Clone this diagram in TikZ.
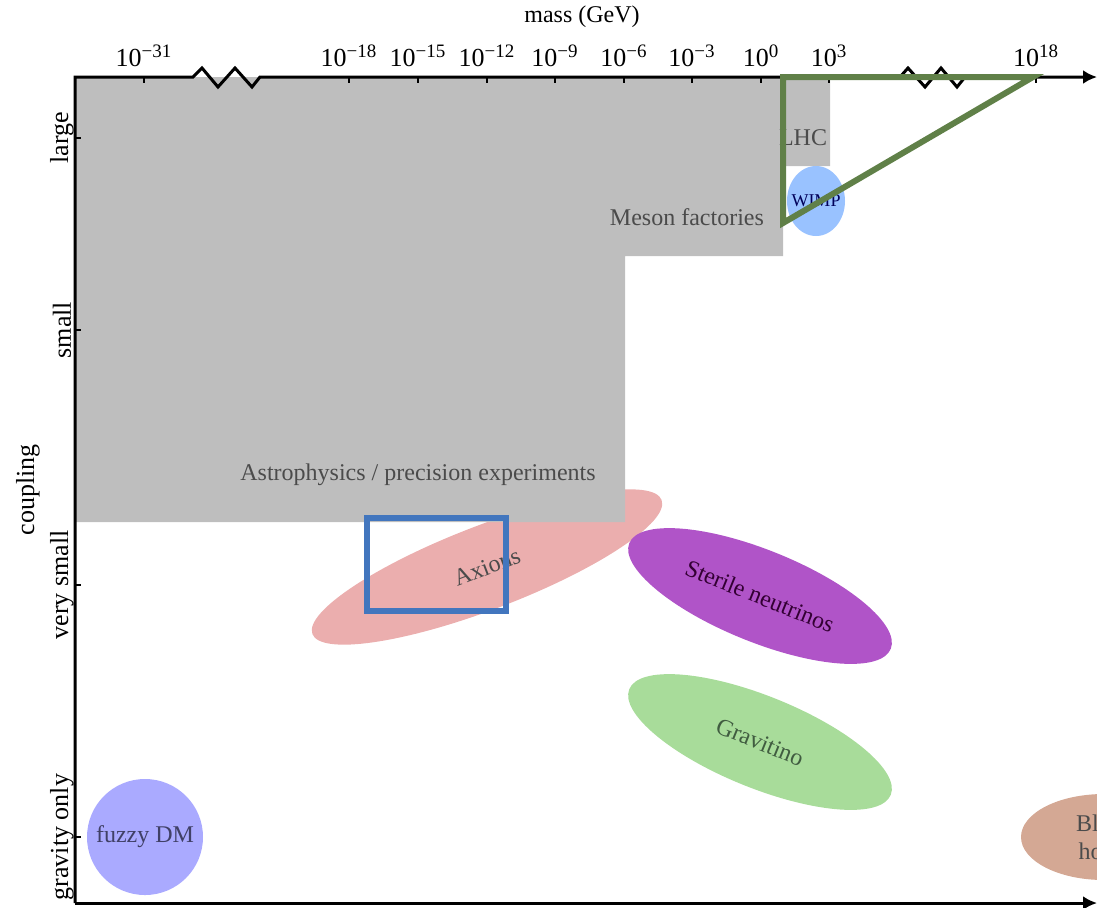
\documentclass[tikz,border=0pt]{standalone}
\usepackage{fontspec}
\setmainfont{Liberation Serif}
\usetikzlibrary{arrows.meta,shapes.geometric}

\definecolor{regiongray}{RGB}{190,190,190}
\definecolor{labelgray}{RGB}{75,75,75}
\definecolor{trianglegreen}{RGB}{96,128,72}
\definecolor{squareblue}{RGB}{66,118,190}
\definecolor{axionpink}{RGB}{235,174,174}
\definecolor{sterilepurple}{RGB}{176,84,200}
\definecolor{gravitinogreen}{RGB}{168,220,154}
\definecolor{wimpblue}{RGB}{153,194,255}
\definecolor{fuzzyblue}{RGB}{170,170,255}
\definecolor{bhbrown}{RGB}{212,168,148}

\newcommand{\tenpow}[1]{10\textsuperscript{\fontsize{9.5}{10}\selectfont #1}}

\begin{document}
\begin{tikzpicture}[x=0.5pt,y=-0.5pt,
    txt/.style={font=\fontsize{12}{14}\selectfont},
    greytxt/.style={txt,text=labelgray},
    axtxt/.style={font=\fontsize{13}{15}\selectfont},
    blob/.style={ellipse,inner sep=0pt,txt},
    axis/.style={line width=1.5pt,-{Latex[length=7pt,width=7pt]}}]
\clip (0,0) rectangle (1097,907);

% candidates below the excluded region
\node[blob,fill=axionpink,minimum width=187pt,minimum height=42pt,rotate=21,text=labelgray] (axions) at (487,567) {Axions};

% excluded region
\fill[regiongray] (75,77) -- (830,77) -- (830,166) -- (783,166) -- (783,256)
    -- (625,256) -- (625,522) -- (75,522) -- cycle;
\node[greytxt] (lhc) at (803,138) {LHC};
\node[greytxt,anchor=east] (meson) at (771,217) {Meson factories};
\node[greytxt] (astro) at (418,475) {Astrophysics / precision experiments};

% axes
\draw[axis] (75,903) -- (75,77) -- (193,77) -- (202,68) -- (218,87) -- (235,68)
    -- (252,87) -- (260,77) -- (900,77) -- (908,68) -- (925,87) -- (941,68)
    -- (957,87) -- (965,77) -- (1097,77);
\draw[axis] (75,903) -- (1097,903);
\foreach \tx/\te [count=\i] in {144/−31,349/−18,418/−15,487/−12,555/−9,624/−6,692/−3,761/0,829/3,1036/18} {
    \draw[line width=1.2pt] (\tx,77) -- (\tx,83);
    \node[axtxt,anchor=base] (mlab\i) at (\tx,66) {\tenpow{\te}};
}
\foreach \ty/\tl [count=\i] in {138/large,330/small,585/very small,837/gravity only} {
    \draw[line width=1.2pt] (75,\ty) -- (81,\ty);
    \node[axtxt,rotate=90] (clab\i) at (62,\ty) {\tl};
}
\node[txt] (mass) at (582,17) {mass (GeV)};
\node[axtxt,rotate=90] (coupling) at (28,490) {coupling};

% WIMP and the green triangle
\node[ellipse,fill=wimpblue,minimum width=29pt,minimum height=35pt,inner sep=0pt] (wimp) at (816,201) {};
\node[font=\fontsize{9}{10}\selectfont,text=blue!35!black] (wimplab) at (wimp) {WIMP};
\coordinate (ta) at (783,77);
\coordinate (tb) at (1033,77);
\coordinate (tc) at (783,223);
\draw[trianglegreen,line width=3pt] (ta) -- (tb) -- (tc) -- cycle;

\draw[squareblue,line width=3pt] (367,518) rectangle (506,611);

% other candidates
\node[blob,fill=sterilepurple,minimum width=141pt,minimum height=46pt,rotate=-22,text=violet!40!black] (sterile) at (760,596) {Sterile neutrinos};
\node[blob,fill=gravitinogreen,minimum width=141pt,minimum height=46pt,rotate=-22,text=green!15!black!75] (gravitino) at (760,742) {Gravitino};
\node[blob,circle,fill=fuzzyblue,minimum size=58pt,text=blue!20!black!75] (fuzzy) at (145,837) {fuzzy DM};
\node[blob,fill=bhbrown,minimum width=83pt,minimum height=43pt,align=center,text=labelgray] (bh) at (1104,837) {Black\\holes};
\end{tikzpicture}
\end{document}
